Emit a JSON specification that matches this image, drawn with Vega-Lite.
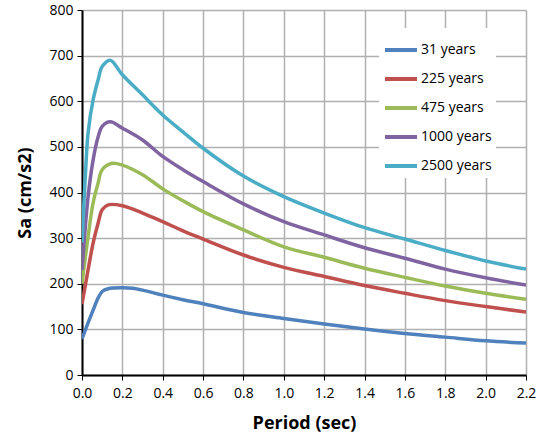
{
  "$schema": "https://vega.github.io/schema/vega-lite/v6.json",
  "autosize": {"type": "none"},
  "width": 444,
  "height": 365,
  "padding": {"left": 82, "top": 10, "right": 19, "bottom": 69},
  "background": "white",
  "config": {
    "view": {"stroke": null},
    "font": "Open Sans",
    "axis": {
      "domainColor": "#000000",
      "domainWidth": 2,
      "tickColor": "#000000",
      "tickWidth": 1,
      "tickSize": 5,
      "gridColor": "#b0b0b0",
      "gridWidth": 1.5,
      "labelColor": "#000000",
      "labelFontSize": 14,
      "labelFont": "Open Sans",
      "titleFont": "Open Sans",
      "titleFontSize": 18,
      "titleFontWeight": "bold",
      "titleColor": "#000000"
    }
  },
  "data": {
    "values": [
      {"T": 0.0, "Sa": 79, "series": "31 years"},
      {"T": 0.03, "Sa": 114, "series": "31 years"},
      {"T": 0.055, "Sa": 142, "series": "31 years"},
      {"T": 0.08, "Sa": 169, "series": "31 years"},
      {"T": 0.1, "Sa": 183, "series": "31 years"},
      {"T": 0.13, "Sa": 189, "series": "31 years"},
      {"T": 0.2, "Sa": 191, "series": "31 years"},
      {"T": 0.25, "Sa": 190, "series": "31 years"},
      {"T": 0.3, "Sa": 186, "series": "31 years"},
      {"T": 0.4, "Sa": 175, "series": "31 years"},
      {"T": 0.5, "Sa": 165, "series": "31 years"},
      {"T": 0.6, "Sa": 156, "series": "31 years"},
      {"T": 0.8, "Sa": 137, "series": "31 years"},
      {"T": 1.0, "Sa": 124, "series": "31 years"},
      {"T": 1.2, "Sa": 112, "series": "31 years"},
      {"T": 1.4, "Sa": 101, "series": "31 years"},
      {"T": 1.6, "Sa": 91, "series": "31 years"},
      {"T": 1.8, "Sa": 83, "series": "31 years"},
      {"T": 2.0, "Sa": 75, "series": "31 years"},
      {"T": 2.2, "Sa": 70, "series": "31 years"},

      {"T": 0.0, "Sa": 155, "series": "225 years"},
      {"T": 0.03, "Sa": 230, "series": "225 years"},
      {"T": 0.055, "Sa": 289, "series": "225 years"},
      {"T": 0.08, "Sa": 333, "series": "225 years"},
      {"T": 0.1, "Sa": 362, "series": "225 years"},
      {"T": 0.13, "Sa": 373, "series": "225 years"},
      {"T": 0.2, "Sa": 371, "series": "225 years"},
      {"T": 0.3, "Sa": 355, "series": "225 years"},
      {"T": 0.4, "Sa": 336, "series": "225 years"},
      {"T": 0.5, "Sa": 316, "series": "225 years"},
      {"T": 0.6, "Sa": 298, "series": "225 years"},
      {"T": 0.8, "Sa": 263, "series": "225 years"},
      {"T": 1.0, "Sa": 236, "series": "225 years"},
      {"T": 1.2, "Sa": 216, "series": "225 years"},
      {"T": 1.4, "Sa": 196, "series": "225 years"},
      {"T": 1.6, "Sa": 179, "series": "225 years"},
      {"T": 1.8, "Sa": 163, "series": "225 years"},
      {"T": 2.0, "Sa": 150, "series": "225 years"},
      {"T": 2.2, "Sa": 138, "series": "225 years"},

      {"T": 0.0, "Sa": 200, "series": "475 years"},
      {"T": 0.03, "Sa": 303, "series": "475 years"},
      {"T": 0.055, "Sa": 377, "series": "475 years"},
      {"T": 0.08, "Sa": 421, "series": "475 years"},
      {"T": 0.1, "Sa": 450, "series": "475 years"},
      {"T": 0.15, "Sa": 464, "series": "475 years"},
      {"T": 0.2, "Sa": 460, "series": "475 years"},
      {"T": 0.3, "Sa": 439, "series": "475 years"},
      {"T": 0.4, "Sa": 408, "series": "475 years"},
      {"T": 0.5, "Sa": 382, "series": "475 years"},
      {"T": 0.6, "Sa": 358, "series": "475 years"},
      {"T": 0.8, "Sa": 318, "series": "475 years"},
      {"T": 1.0, "Sa": 281, "series": "475 years"},
      {"T": 1.2, "Sa": 258, "series": "475 years"},
      {"T": 1.4, "Sa": 234, "series": "475 years"},
      {"T": 1.6, "Sa": 214, "series": "475 years"},
      {"T": 1.8, "Sa": 195, "series": "475 years"},
      {"T": 2.0, "Sa": 179, "series": "475 years"},
      {"T": 2.2, "Sa": 166, "series": "475 years"},

      {"T": 0.0, "Sa": 230, "series": "1000 years"},
      {"T": 0.03, "Sa": 390, "series": "1000 years"},
      {"T": 0.055, "Sa": 471, "series": "1000 years"},
      {"T": 0.08, "Sa": 522, "series": "1000 years"},
      {"T": 0.1, "Sa": 545, "series": "1000 years"},
      {"T": 0.14, "Sa": 555, "series": "1000 years"},
      {"T": 0.2, "Sa": 541, "series": "1000 years"},
      {"T": 0.3, "Sa": 515, "series": "1000 years"},
      {"T": 0.4, "Sa": 479, "series": "1000 years"},
      {"T": 0.5, "Sa": 450, "series": "1000 years"},
      {"T": 0.6, "Sa": 424, "series": "1000 years"},
      {"T": 0.8, "Sa": 375, "series": "1000 years"},
      {"T": 1.0, "Sa": 336, "series": "1000 years"},
      {"T": 1.2, "Sa": 307, "series": "1000 years"},
      {"T": 1.4, "Sa": 279, "series": "1000 years"},
      {"T": 1.6, "Sa": 256, "series": "1000 years"},
      {"T": 1.8, "Sa": 232, "series": "1000 years"},
      {"T": 2.0, "Sa": 213, "series": "1000 years"},
      {"T": 2.2, "Sa": 197, "series": "1000 years"},

      {"T": 0.0, "Sa": 290, "series": "2500 years"},
      {"T": 0.02, "Sa": 465, "series": "2500 years"},
      {"T": 0.03, "Sa": 530, "series": "2500 years"},
      {"T": 0.055, "Sa": 603, "series": "2500 years"},
      {"T": 0.08, "Sa": 647, "series": "2500 years"},
      {"T": 0.1, "Sa": 676, "series": "2500 years"},
      {"T": 0.14, "Sa": 690, "series": "2500 years"},
      {"T": 0.2, "Sa": 658, "series": "2500 years"},
      {"T": 0.3, "Sa": 614, "series": "2500 years"},
      {"T": 0.4, "Sa": 570, "series": "2500 years"},
      {"T": 0.5, "Sa": 533, "series": "2500 years"},
      {"T": 0.6, "Sa": 497, "series": "2500 years"},
      {"T": 0.8, "Sa": 436, "series": "2500 years"},
      {"T": 1.0, "Sa": 391, "series": "2500 years"},
      {"T": 1.2, "Sa": 355, "series": "2500 years"},
      {"T": 1.4, "Sa": 323, "series": "2500 years"},
      {"T": 1.6, "Sa": 298, "series": "2500 years"},
      {"T": 1.8, "Sa": 273, "series": "2500 years"},
      {"T": 2.0, "Sa": 250, "series": "2500 years"},
      {"T": 2.2, "Sa": 232, "series": "2500 years"}
    ]
  },
  "mark": {"type": "line", "interpolate": "catmull-rom", "strokeWidth": 3.5, "clip": true},
  "encoding": {
    "x": {
      "field": "T",
      "type": "quantitative",
      "title": "Period (sec)",
      "scale": {"domain": [0, 2.2], "nice": false},
      "axis": {
        "values": [0, 0.2, 0.4, 0.6, 0.8, 1.0, 1.2, 1.4, 1.6, 1.8, 2.0, 2.2],
        "format": ".1f",
        "labelPadding": 6,
        "titlePadding": 14,
        "labelFlush": false
      }
    },
    "y": {
      "field": "Sa",
      "type": "quantitative",
      "title": "Sa (cm/s2)",
      "scale": {"domain": [0, 800], "nice": false},
      "axis": {
        "values": [0, 100, 200, 300, 400, 500, 600, 700, 800],
        "labelPadding": 4,
        "titlePadding": 14,
        "labelFlush": false
      }
    },
    "color": {
      "field": "series",
      "type": "nominal",
      "sort": ["31 years", "225 years", "475 years", "1000 years", "2500 years"],
      "scale": {
        "domain": ["31 years", "225 years", "475 years", "1000 years", "2500 years"],
        "range": ["#4F81BD", "#C0504D", "#9BBB59", "#8064A2", "#4BACC6"]
      },
      "legend": {
        "title": null,
        "orient": "none",
        "legendX": 297,
        "legendY": 18,
        "fillColor": "white",
        "padding": 4,
        "symbolType": "stroke",
        "symbolSize": 1024,
        "symbolStrokeWidth": 4,
        "labelFontSize": 14,
        "labelFont": "Open Sans",
        "labelColor": "#000000",
        "labelOffset": 2,
        "rowPadding": 3
      }
    }
  }
}
